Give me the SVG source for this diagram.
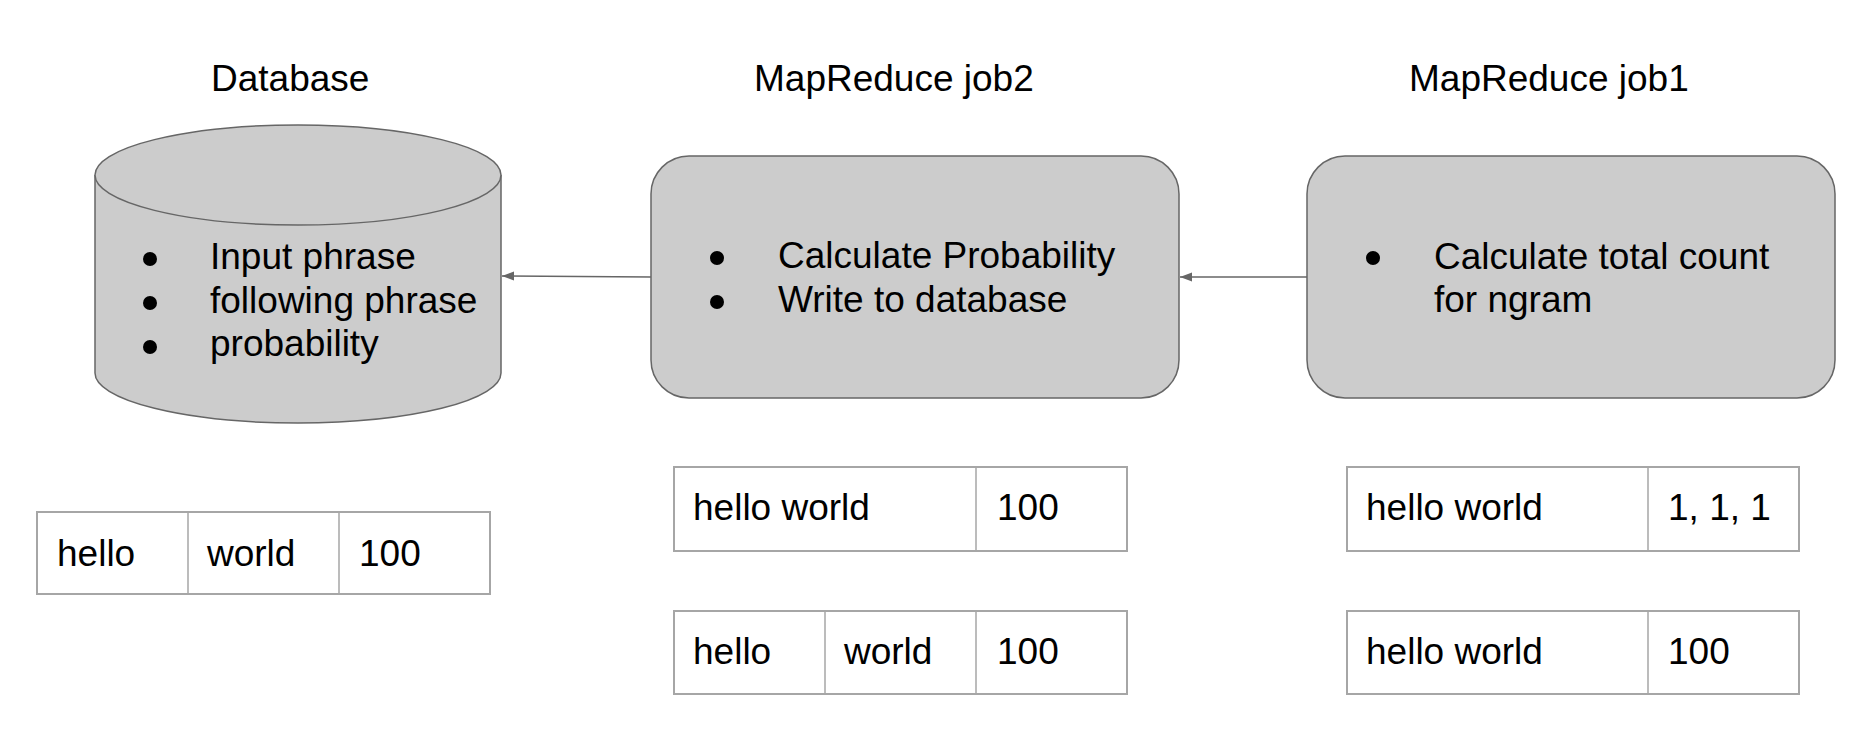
<svg xmlns="http://www.w3.org/2000/svg" width="1856" height="752" viewBox="0 0 1856 752">
<style>
text{font-family:"Liberation Sans",Arial,sans-serif;font-size:37px;fill:#000}
.shape{fill:#cccccc;stroke:#666666;stroke-width:1.5}
.cell{fill:#ffffff;stroke:#a6a6a6;stroke-width:2}
.div{stroke:#a6a6a6;stroke-width:1.5}
.bul{fill:#000}
.conn{stroke:#666666;stroke-width:1.5;fill:none}
</style>
<defs>
<marker id="arr" markerUnits="userSpaceOnUse" markerWidth="14" markerHeight="12" refX="12" refY="4.5" orient="auto">
<path d="M0,0 L12,4.5 L0,9 Z" fill="#666666"/>
</marker>
</defs>
<rect width="1856" height="752" fill="#ffffff"/>

<g id="title-database"><text x="211" y="91">Database</text></g>
<g id="title-job2"><text x="754" y="91">MapReduce job2</text></g>
<g id="title-job1"><text x="1409" y="91">MapReduce job1</text></g>

<g id="database">
<path class="shape" d="M95,175 L95,373 A203,50 0 0 0 501,373 L501,175"/>
<ellipse class="shape" cx="298" cy="175" rx="203" ry="50"/>
<circle class="bul" cx="150" cy="259" r="7"/>
<circle class="bul" cx="150" cy="303" r="7"/>
<circle class="bul" cx="150" cy="347" r="7"/>
<text x="210" y="269">Input phrase</text>
<text x="210" y="313">following phrase</text>
<text x="210" y="356">probability</text>
</g>

<g id="job2">
<rect class="shape" x="651" y="156" width="528" height="242" rx="38" ry="38"/>
<circle class="bul" cx="717" cy="258" r="7"/>
<circle class="bul" cx="717" cy="302" r="7"/>
<text x="778" y="268">Calculate Probability</text>
<text x="778" y="312">Write to database</text>
</g>

<g id="job1">
<rect class="shape" x="1307" y="156" width="528" height="242" rx="38" ry="38"/>
<circle class="bul" cx="1373" cy="258" r="7"/>
<text x="1434" y="269">Calculate total count</text>
<text x="1434" y="312">for ngram</text>
</g>

<g id="connectors">
<line class="conn" x1="651" y1="277" x2="502" y2="276" marker-end="url(#arr)"/>
<line class="conn" x1="1307" y1="277" x2="1180" y2="277" marker-end="url(#arr)"/>
</g>

<g id="table-db">
<rect class="cell" x="37" y="512" width="453" height="82"/>
<line class="div" x1="188" y1="512" x2="188" y2="594"/>
<line class="div" x1="339" y1="512" x2="339" y2="594"/>
<text x="57" y="566">hello</text>
<text x="207" y="566">world</text>
<text x="359" y="566">100</text>
</g>

<g id="table-job2-a">
<rect class="cell" x="674" y="467" width="453" height="84"/>
<line class="div" x1="976" y1="467" x2="976" y2="551"/>
<text x="693" y="520">hello world</text>
<text x="997" y="520">100</text>
</g>

<g id="table-job2-b">
<rect class="cell" x="674" y="611" width="453" height="83"/>
<line class="div" x1="825" y1="611" x2="825" y2="694"/>
<line class="div" x1="976" y1="611" x2="976" y2="694"/>
<text x="693" y="664">hello</text>
<text x="844" y="664">world</text>
<text x="997" y="664">100</text>
</g>

<g id="table-job1-a">
<rect class="cell" x="1347" y="467" width="452" height="84"/>
<line class="div" x1="1648" y1="467" x2="1648" y2="551"/>
<text x="1366" y="520">hello world</text>
<text x="1668" y="520">1, 1, 1</text>
</g>

<g id="table-job1-b">
<rect class="cell" x="1347" y="611" width="452" height="83"/>
<line class="div" x1="1648" y1="611" x2="1648" y2="694"/>
<text x="1366" y="664">hello world</text>
<text x="1668" y="664">100</text>
</g>
</svg>
